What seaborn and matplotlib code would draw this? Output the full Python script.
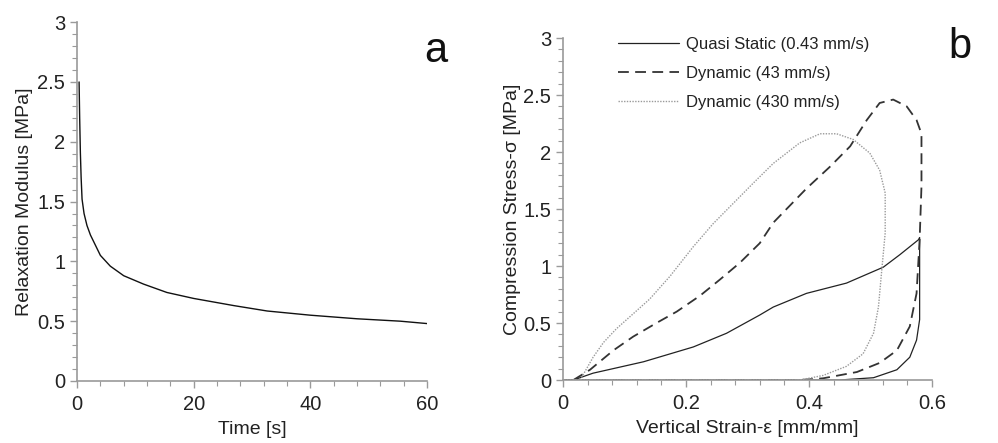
import numpy as np
import pandas as pd
import matplotlib
matplotlib.use("Agg")
import matplotlib.pyplot as plt
from matplotlib.ticker import MultipleLocator
import seaborn as sns

# ---- Data: panel a (relaxation modulus) ----
time_s = [0.35, 0.45, 0.57, 0.7, 0.86, 1.2, 1.7, 2.3, 2.9, 4.0, 5.7, 8.0, 11.4, 15.4, 20.0,
          26.9, 32.6, 40.0, 48.0, 55.4, 60.0]
modulus_mpa = [2.5, 2.2, 1.91, 1.7, 1.52, 1.40, 1.30, 1.22, 1.16, 1.05, 0.96, 0.88, 0.81, 0.74, 0.69,
               0.63, 0.585, 0.55, 0.52, 0.50, 0.48]

# ---- Data: panel b (stress-strain loops) ----
qs_strain = [0.0, 0.017, 0.049, 0.131, 0.212, 0.266, 0.320, 0.342, 0.396, 0.461, 0.521,
             0.548, 0.578, 0.580, 0.580, 0.575, 0.564, 0.543, 0.505, 0.45, 0.2, 0.0]
qs_stress = [0.0, 0.0, 0.06, 0.16, 0.29, 0.41, 0.57, 0.64, 0.76, 0.85, 0.99,
             1.10, 1.23, 1.25, 0.53, 0.35, 0.20, 0.09, 0.02, 0.0, 0.0, 0.0]

d43_strain = [0.017, 0.044, 0.082, 0.114, 0.152, 0.185, 0.223, 0.255, 0.288, 0.320, 0.342,
              0.396, 0.434, 0.467, 0.494, 0.515, 0.537, 0.559, 0.575, 0.583, 0.583, 0.580,
              0.575, 0.564, 0.543, 0.515, 0.478, 0.423, 0.385, 0.2, 0.0]
d43_stress = [0.0, 0.09, 0.26, 0.38, 0.50, 0.60, 0.74, 0.88, 1.03, 1.20, 1.38,
              1.68, 1.87, 2.05, 2.28, 2.43, 2.46, 2.40, 2.28, 2.16, 1.70, 1.23,
              0.76, 0.47, 0.26, 0.15, 0.07, 0.015, 0.0, 0.0, 0.0]

d430_strain = [0.028, 0.049, 0.066, 0.087, 0.114, 0.141, 0.174, 0.212, 0.244, 0.277, 0.31,
               0.342, 0.385, 0.418, 0.445, 0.472, 0.499, 0.515, 0.524, 0.524, 0.518,
               0.513, 0.505, 0.488, 0.461, 0.423, 0.385, 0.2, 0.0]
d430_stress = [0.0, 0.20, 0.33, 0.45, 0.58, 0.71, 0.91, 1.17, 1.37, 1.55, 1.73,
               1.90, 2.08, 2.16, 2.16, 2.11, 1.99, 1.84, 1.64, 1.29, 0.94,
               0.64, 0.41, 0.23, 0.12, 0.04, 0.0, 0.0, 0.0]

series_labels = ["Quasi Static (0.43 mm/s)", "Dynamic (43 mm/s)", "Dynamic (430 mm/s)"]

sns.set_style("ticks")
plt.rcParams['font.family'] = ['Liberation Sans', 'DejaVu Sans']

fig = plt.figure(figsize=(9.98, 4.43), dpi=100)
axa = fig.add_axes([0.0772, 0.14, 0.3507, 0.810])
axb = fig.add_axes([0.5641, 0.1422, 0.3697, 0.772])

axis_gray = "#9a9a9a"
text_col = "#222222"

dfa = pd.DataFrame({"t": time_s, "E": modulus_mpa})
sns.lineplot(data=dfa, x="t", y="E", ax=axa, color="#111111", lw=1.0, sort=False,
             estimator=None, errorbar=None)

styles = [
    dict(color="#222222", lw=0.9, ls="-"),
    dict(color="#333333", lw=1.3, ls=(0, (6, 3.5))),
    dict(color="#9a9a9a", lw=1.0, ls=(0, (1, 1))),
]
pairs = [(qs_strain, qs_stress), (d43_strain, d43_stress), (d430_strain, d430_stress)]
for (xs, ys), lab, st in zip(pairs, series_labels, styles):
    d = pd.DataFrame({"x": xs, "y": ys})
    sns.lineplot(data=d, x="x", y="y", ax=axb, sort=False, label=lab,
                 estimator=None, errorbar=None,
                 color=st["color"], lw=st["lw"], linestyle=st["ls"])

for ax in (axa, axb):
    for s in ("top", "right"):
        ax.spines[s].set_visible(False)
    for s in ("left", "bottom"):
        ax.spines[s].set_color(axis_gray)
        ax.spines[s].set_linewidth(1.2)
    ax.tick_params(which="major", length=5, width=1, color=axis_gray,
                   labelsize=14.5, labelcolor=text_col, direction="out")
    ax.tick_params(which="minor", length=3.5, width=0.8, color=axis_gray, direction="out")
    ax.tick_params(axis="x", which="major", pad=5)
    ax.set_ylim(0, 3)
    ax.set_yticks([0, 0.5, 1, 1.5, 2, 2.5, 3])
    ax.set_yticklabels(["0", "0.5", "1", "1.5", "2", "2.5", "3"])
    ax.yaxis.set_minor_locator(MultipleLocator(0.1))

axa.set_xlim(0, 60)
axa.set_xticks([0, 20, 40, 60])
axa.xaxis.set_minor_locator(MultipleLocator(4))
axa.set_xlabel("Time [s]", fontsize=14, color=text_col, labelpad=5)
axa.set_ylabel("Relaxation Modulus [MPa]", fontsize=14, color=text_col, labelpad=3)

axb.set_xlim(0, 0.6)
axb.set_xticks([0, 0.2, 0.4, 0.6])
axb.set_xticklabels(["0", "0.2", "0.4", "0.6"])
axb.xaxis.set_minor_locator(MultipleLocator(0.04))
axb.set_xlabel("Vertical Strain-ε [mm/mm]", fontsize=14, color=text_col, labelpad=5)
axb.set_ylabel("Compression Stress-σ [MPa]", fontsize=14, color=text_col, labelpad=2)

leg = axb.legend(loc="upper left", bbox_to_anchor=(0.108, 1.048), frameon=False,
                 fontsize=12, handlelength=3.7, handletextpad=0.4, labelspacing=0.84)
for t in leg.get_texts():
    t.set_color(text_col)

fig.text(0.437, 0.884, "a", fontsize=30, color="#111111", ha="center", va="center")
fig.text(0.962, 0.893, "b", fontsize=30, color="#111111", ha="center", va="center")

fig.savefig("out.png", dpi=100)
